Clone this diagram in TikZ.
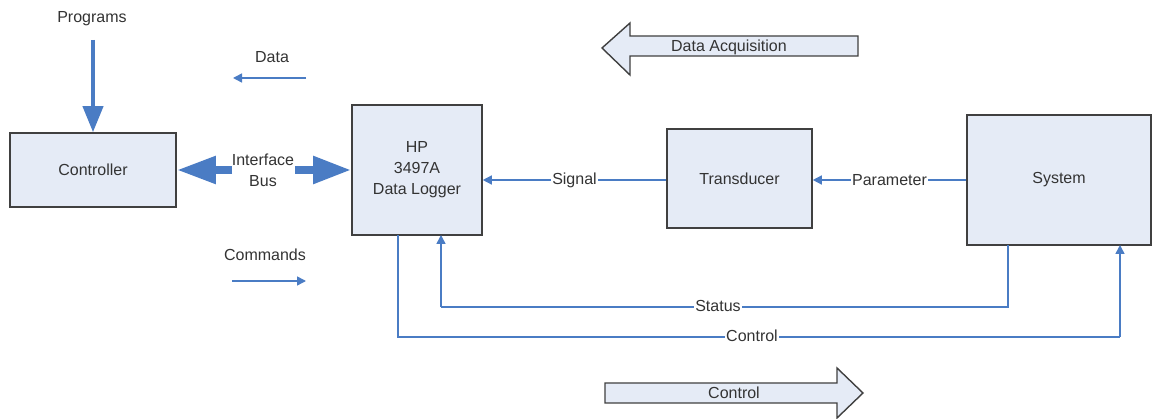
\documentclass[tikz,border=0pt]{standalone}
\usepackage{fontspec}
\setmainfont{Liberation Sans}
\usetikzlibrary{arrows.meta,calc}
\definecolor{boxfill}{HTML}{E5EBF6}
\definecolor{boxline}{HTML}{404040}
\definecolor{arr}{HTML}{4A7CC4}
\definecolor{txt}{HTML}{333333}
\begin{document}
\begin{tikzpicture}[x=1pt,y=-1pt,
  every node/.style={font=\fontsize{16}{21}\selectfont,text=txt},
  blockbox/.style={draw=boxline,line width=1.6pt,fill=boxfill,align=center,inner sep=0pt},
  thin/.style={draw=arr,line width=1.5pt,-{Triangle[length=9pt,width=9pt]}},
  plain/.style={draw=arr,line width=1.5pt},
  onlabel/.style={fill=white,inner sep=1pt},
  bigarrow/.style={draw=boxline,line width=1.4pt,fill=boxfill,line join=miter}]
\useasboundingbox (0,0) rectangle (1152,419);
\fill[white] (0,0) rectangle (1152,419);

% blocks
\node[blockbox,minimum width=166pt,minimum height=74pt] (ctrl) at (93,170) {Controller};
\node[blockbox,minimum width=130pt,minimum height=130pt] (hp) at (417,170) {HP\\3497A\\Data Logger};
\node[blockbox,minimum width=145pt,minimum height=99pt] (trans) at (739.5,178.5) {Transducer};
\node[blockbox,minimum width=184pt,minimum height=130pt] (sys) at (1059,180) {System};

% programs
\node (prog) at (92,19) {Programs};
\coordinate (progstart) at (93,40);
\draw[draw=arr,line width=4pt,-{Triangle[length=26pt,width=20pt]}] (progstart) -- (ctrl.north);

% data / commands
\node (data) at (272,57) {Data};
\coordinate (dataA) at (306,78);
\coordinate (dataB) at (233,78);
\draw[thin] (dataA) -- (dataB);
\node (cmd) at (265,255) {Commands};
\coordinate (cmdA) at (232,281);
\coordinate (cmdB) at (306,281);
\draw[thin] (cmdA) -- (cmdB);

% interface bus
\node[align=center] (bus) at (263,170) {Interface\\Bus};
\coordinate (busL) at (232,170);
\coordinate (busR) at (295,170);
\draw[draw=arr,line width=8pt,-{Triangle[length=39pt,width=26pt]}] (busL) -- (ctrl.east);
\draw[draw=arr,line width=8pt,-{Triangle[length=38pt,width=26pt]}] (busR) -- (hp.west);

% signal & parameter
\draw[thin] (trans.west |- 0,180) -- (hp.east |- 0,180) node[midway,onlabel] (sig) {Signal};
\draw[thin] (sys.west |- 0,180) -- (trans.east |- 0,180) node[midway,onlabel] (par) {Parameter};

% status
\coordinate (st1) at (1008,245);
\coordinate (st2) at (1008,307);
\coordinate (st3) at (441,307);
\coordinate (st4) at (441,235);
\draw[plain] (st1) -- (st2) -- (st3);
\draw[thin] (st3) -- (st4);
\node[onlabel] (status) at (718,306) {Status};

% control
\coordinate (c1) at (398,235);
\coordinate (c2) at (398,337);
\coordinate (c3) at (1120,337);
\coordinate (c4) at (1120,245);
\draw[plain] (c1) -- (c2) -- (c3);
\draw[thin] (c3) -- (c4);
\node[onlabel] (ctl) at (752,336) {Control};

% big arrows
\draw[bigarrow] (602,48) -- (630,23) -- (630,36) -- (858,36) -- (858,56) -- (630,56) -- (630,75) -- cycle;
\node (daq) at (729,47) {Data Acquisition};
\draw[bigarrow] (605,383) -- (837,383) -- (837,368) -- (863,393) -- (837,418) -- (837,403) -- (605,403) -- cycle;
\node (ctlbig) at (734,393) {Control};
\end{tikzpicture}
\end{document}
